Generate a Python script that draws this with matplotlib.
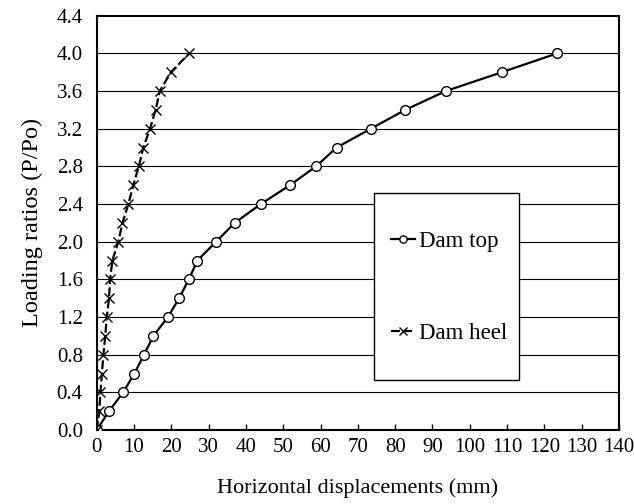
import matplotlib
matplotlib.use("Agg")
import matplotlib.pyplot as plt
from matplotlib.patches import Rectangle

plt.rcParams['font.family'] = ['Liberation Serif', 'DejaVu Serif']

loading = [0.0, 0.2, 0.4, 0.6, 0.8, 1.0, 1.2, 1.4, 1.6, 1.8, 2.0,
           2.2, 2.4, 2.6, 2.8, 3.0, 3.2, 3.4, 3.6, 3.8, 4.0]
dam_top = [0.0, 3.3, 7.1, 10.1, 12.7, 15.2, 19.1, 22.1, 24.7, 27.0, 32.0,
           37.0, 44.0, 51.8, 58.8, 64.3, 73.5, 82.7, 93.6, 108.6, 123.4]
dam_heel = [0.0, 0.7, 1.0, 1.4, 1.8, 2.3, 2.7, 3.3, 3.6, 4.2, 5.8,
            6.9, 8.5, 9.8, 11.3, 12.5, 14.3, 15.8, 16.9, 19.9, 24.8]
x_ticks = list(range(0, 141, 10))
y_ticks = [0.0, 0.4, 0.8, 1.2, 1.6, 2.0, 2.4, 2.8, 3.2, 3.6, 4.0, 4.4]

fig = plt.figure(figsize=(6.34, 5.04), dpi=100)
ax = fig.add_axes([0.1525, 0.1468, 0.9763 - 0.1525, 0.9688 - 0.1468])

for yv in y_ticks[1:-1]:
    ax.axhline(yv, color='black', lw=0.8, zorder=1)

l1, = ax.plot(dam_top, loading, color='black', lw=1.6, marker='o', ms=7,
              mfc='white', mec='black', mew=1.0, label='Dam top', zorder=3)
l2, = ax.plot(dam_heel, loading, color='black', lw=1.6, ls=(0, (4, 1.5)), marker='x', ms=7,
              mec='black', mew=1.0, label='Dam heel', zorder=3)

ax.set_xlim(0, 140)
ax.set_ylim(0, 4.4)
ax.set_xticks(x_ticks)
ax.set_yticks(y_ticks)
ax.set_yticklabels([f"{v:.1f}" for v in y_ticks])
ax.tick_params(axis='x', direction='in', length=4.5, width=1, labelsize=15, pad=6)
ax.tick_params(axis='y', direction='in', length=0, labelsize=15, pad=10)
for s in ax.spines.values():
    s.set_linewidth(1.5)

ax.set_xlabel('Horizontal displacements (mm)', fontsize=16, labelpad=15)
ax.set_ylabel('Loading ratios (P/Po)', fontsize=17.5, labelpad=10)

rect = Rectangle((0.531, 0.121), 0.278, 0.451, transform=ax.transAxes,
                 facecolor='white', edgecolor='black', lw=1.0, zorder=4)
ax.add_patch(rect)

leg = ax.legend(handles=[l1, l2], loc='center left', bbox_to_anchor=(0.563, 0.345),
                frameon=False, borderpad=0, borderaxespad=0, fontsize=16.5,
                handlelength=1.05, handletextpad=0.2, labelspacing=3.1,
                markerscale=0.75)
leg.set_zorder(5)

fig.savefig('out.png', dpi=100)
